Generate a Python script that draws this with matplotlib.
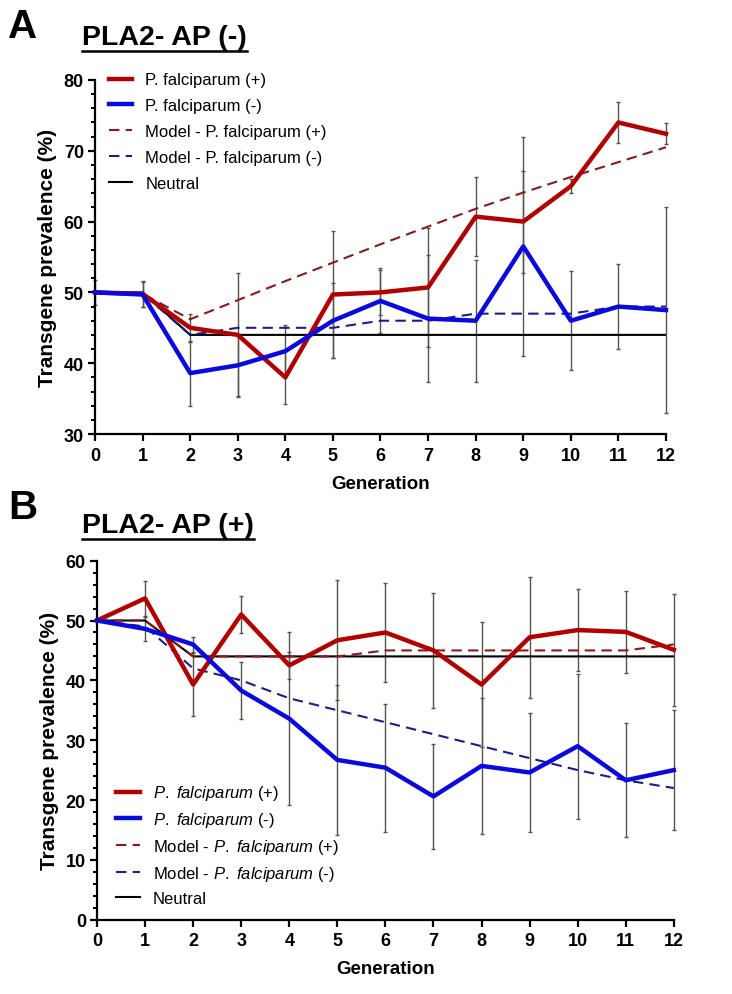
import numpy as np
import matplotlib
matplotlib.use('Agg')
import matplotlib.pyplot as plt
from matplotlib.lines import Line2D

plt.rcParams['font.family'] = ['Liberation Sans', 'DejaVu Sans']
plt.rcParams['mathtext.fontset'] = 'custom'
plt.rcParams['mathtext.rm'] = 'Liberation Sans'
plt.rcParams['mathtext.it'] = 'Liberation Sans:italic'

gen = np.arange(13)
gen_labels = [str(g) for g in gen]

# panel A: PLA2- AP (-)
a_pos = [50, 49.8, 45, 44, 38, 49.7, 50, 50.7, 60.7, 60, 65, 74, 72.4]
a_pos_err = [1.8, 1.8, 2, 8.8, 3.8, 9, 3.2, 8.4, 5.6, 7.2, 1, 2.9, 1.5]
a_neg = [50, 49.7, 38.6, 39.7, 41.7, 46, 48.8, 46.3, 46, 56.5, 46, 48, 47.5]
a_neg_err = [0, 1.8, 4.6, 4.4, 3.7, 5.3, 4.6, 9, 8.6, 15.5, 7, 6, 14.5]
a_model_pos = [50, 49.8, 46.2, 48.9, 51.6, 54.2, 56.8, 59.3, 61.8, 64.1, 66.3, 68.4, 70.5]
a_model_neg = [50, 49.8, 44, 45, 45, 45, 46, 46, 47, 47, 47, 48, 48]
a_neutral = [50, 50, 44, 44, 44, 44, 44, 44, 44, 44, 44, 44, 44]

# panel B: PLA2- AP (+)
b_pos = [50, 53.7, 39.3, 51, 42.5, 46.7, 48, 45, 39.3, 47.2, 48.4, 48.1, 45.1]
b_pos_err = [0, 2.9, 5.2, 3.1, 2.2, 10, 8.2, 9.6, 10.4, 10.1, 6.8, 6.8, 9.4]
b_neg = [50, 48.6, 46, 38.3, 33.6, 26.7, 25.4, 20.6, 25.7, 24.6, 29, 23.3, 25]
b_neg_err = [0, 2, 1.2, 4.7, 14.4, 12.5, 10.7, 8.8, 11.4, 9.9, 12.1, 9.5, 10]
b_model_pos = [50, 50, 44, 44, 44, 44, 45, 45, 45, 45, 45, 45, 46]
b_model_neg = [50, 49, 42, 40, 37, 35, 33, 31, 29, 27, 25, 23.3, 22]
b_neutral = [50, 50, 44, 44, 44, 44, 44, 44, 44, 44, 44, 44, 44]

red = '#b30000'
blue = '#0a0ae0'
red_dash = '#8c1a1a'
blue_dash = '#1c1c8c'
err_col = '#55554a'

fig = plt.figure(figsize=(7.32, 9.95), dpi=100)


def panel(rect, pos, pos_err, neg, neg_err, mpos, mneg, neutral, ylim, labels, leg_anchor, spacing):
    ax = fig.add_axes(rect)
    for vals, errs in ((pos, pos_err), (neg, neg_err)):
        eb = ax.errorbar(gen, vals, yerr=errs, fmt='none', ecolor=err_col, elinewidth=1,
                         capsize=1.5, zorder=1)
        for art in eb.lines[1] + eb.lines[2]:
            art.set_clip_on(False)
    ax.plot(gen, pos, color=red, lw=3.2, label=labels[0], zorder=4, clip_on=False)
    ax.plot(gen, neg, color=blue, lw=3.2, label=labels[1], zorder=4, clip_on=False)
    ax.plot(gen, mpos, color=red_dash, lw=1.5, ls=(0, (5, 3)), label=labels[2], zorder=3)
    ax.plot(gen, mneg, color=blue_dash, lw=1.5, ls=(0, (5, 3)), label=labels[3], zorder=3)
    ax.plot(gen, neutral, color='black', lw=1.5, label=labels[4], zorder=2)
    ax.set_xlim(0, 12)
    ax.set_ylim(*ylim)
    ax.set_xticks(gen)
    ax.set_xticklabels(gen_labels)
    ax.set_yticks(np.arange(ylim[0], ylim[1] + 1, 10))
    ax.set_yticks(np.arange(ylim[0], ylim[1] + 1, 2), minor=True)
    ax.spines['top'].set_visible(False)
    ax.spines['right'].set_visible(False)
    ax.spines['left'].set_linewidth(1.6)
    ax.spines['bottom'].set_linewidth(1.6)
    ax.tick_params(axis='both', which='major', width=1.6, length=5, labelsize=13, pad=3)
    ax.tick_params(axis='x', which='major', pad=4)
    ax.tick_params(axis='y', which='minor', width=1.4, length=3)
    for t in ax.get_xticklabels() + ax.get_yticklabels():
        t.set_fontweight('bold')
    ax.set_xlabel('Generation', fontsize=13.5, fontweight='bold', labelpad=8)
    ax.set_ylabel('Transgene prevalence (%)', fontsize=15, fontweight='bold', labelpad=5)
    ax.patch.set_alpha(0)
    ax.legend(loc='upper left', bbox_to_anchor=leg_anchor, frameon=False, fontsize=12,
              handlelength=1.4, handletextpad=0.8, labelspacing=spacing, borderaxespad=0)
    return ax


labels_a = ['P. falciparum (+)', 'P. falciparum (-)', 'Model - P. falciparum (+)',
            'Model - P. falciparum (-)', 'Neutral']
labels_b = [r'$\it{P.}$ $\it{falciparum}$ (+)', r'$\it{P.}$ $\it{falciparum}$ (-)',
            r'Model - $\it{P.}$ $\it{falciparum}$ (+)', r'Model - $\it{P.}$ $\it{falciparum}$ (-)',
            'Neutral']

axA = panel([0.1298, 0.5628, 0.780, 0.3558], a_pos, a_pos_err, a_neg, a_neg_err,
            a_model_pos, a_model_neg, a_neutral, (30, 80), labels_a, (0.012, 1.04), 0.65)
axB = panel([0.1325, 0.0747, 0.788, 0.3608], b_pos, b_pos_err, b_neg, b_neg_err,
            b_model_pos, b_model_neg, b_neutral, (0, 60), labels_b, (0.022, 0.398), 0.47)

fig.text(0.011, 0.962, 'A', fontsize=29, fontweight='bold', va='baseline')
fig.text(0.011, 0.478, 'B', fontsize=29, fontweight='bold', va='baseline')
tA = fig.text(0.112, 0.955, 'PLA2- AP (-)', fontsize=20.5, fontweight='bold', va='baseline')
tB = fig.text(0.112, 0.464, 'PLA2- AP (+)', fontsize=20.5, fontweight='bold', va='baseline')

# underline the panel titles
fig.canvas.draw()
inv = fig.transFigure.inverted()
for t in (tA, tB):
    bb = t.get_window_extent()
    (x0, y0), (x1, y1) = inv.transform([(bb.x0, bb.y0), (bb.x1, bb.y0)])
    fig.add_artist(Line2D([x0, x1], [y0 - 0.001, y0 - 0.001], color='black', lw=1.8,
                          transform=fig.transFigure))

fig.savefig('out.png', dpi=100, facecolor='white')
